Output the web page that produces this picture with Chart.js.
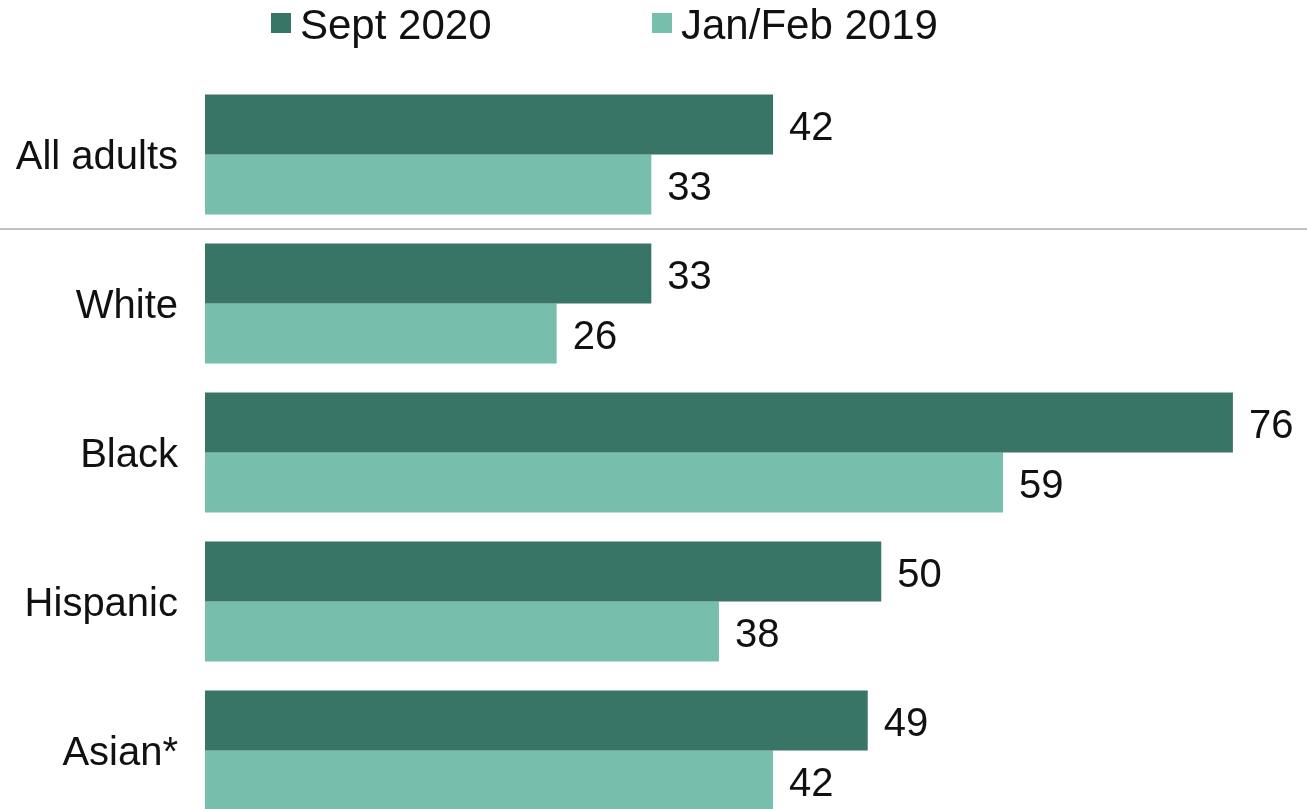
<!DOCTYPE html>
<html>
<head>
<meta charset="utf-8">
<script src="https://cdn.jsdelivr.net/npm/chart.js@4/dist/chart.umd.min.js"></script>
<style>
  html, body { margin: 0; padding: 0; background: #fff; overflow: hidden; }
  #wrap { width: 1307px; height: 830px; }
</style>
</head>
<body>
<div id="wrap"><canvas id="c" width="1307" height="830" style="width:1307px;height:830px"></canvas></div>
<script>
const categories = ["All adults", "White", "Black", "Hispanic", "Asian*"];
const seriesNames = ["Sept 2020", "Jan/Feb 2019"];
const sept2020 = [42, 33, 76, 50, 49];
const janFeb2019 = [33, 26, 59, 38, 42];
const seriesColors = ["#387566", "#77bead"];

const FONT = "'Liberation Sans', Arial, sans-serif";

const legendPlugin = {
  id: 'customLegend',
  afterDraw(chart) {
    const ctx = chart.ctx;
    const items = [{ box: 271, text: 300 }, { box: 652, text: 681 }];
    ctx.save();
    ctx.font = "42px " + FONT;
    ctx.textBaseline = 'middle';
    ctx.textAlign = 'left';
    chart.data.datasets.forEach((ds, i) => {
      ctx.fillStyle = ds.backgroundColor;
      ctx.fillRect(items[i].box, 13, 20, 20);
      ctx.fillStyle = '#111';
      ctx.fillText(ds.label, items[i].text, 27);
    });
    ctx.restore();
  }
};

const separatorPlugin = {
  id: 'separator',
  beforeDatasetsDraw(chart) {
    const y = chart.scales.y;
    const yy = (y.getPixelForValue(0) + y.getPixelForValue(1)) / 2;
    const ctx = chart.ctx;
    ctx.save();
    ctx.strokeStyle = '#c2c2c2';
    ctx.lineWidth = 2;
    ctx.beginPath();
    ctx.moveTo(0, yy);
    ctx.lineTo(chart.width, yy);
    ctx.stroke();
    ctx.restore();
  }
};

const valueLabels = {
  id: 'valueLabels',
  afterDatasetsDraw(chart) {
    const ctx = chart.ctx;
    ctx.save();
    ctx.font = "40px " + FONT;
    ctx.fillStyle = '#111';
    ctx.textAlign = 'left';
    ctx.textBaseline = 'middle';
    chart.data.datasets.forEach((ds, di) => {
      chart.getDatasetMeta(di).data.forEach((bar, i) => {
        ctx.fillText(String(ds.data[i]), bar.x + 16, bar.y + 4);
      });
    });
    ctx.restore();
  }
};

new Chart(document.getElementById('c'), {
  type: 'bar',
  data: {
    labels: categories,
    datasets: [
      { label: seriesNames[0], data: sept2020, backgroundColor: seriesColors[0] },
      { label: seriesNames[1], data: janFeb2019, backgroundColor: seriesColors[1] }
    ]
  },
  options: {
    indexAxis: 'y',
    responsive: false,
    maintainAspectRatio: false,
    animation: false,
    devicePixelRatio: 1,
    layout: { padding: { top: 80, bottom: 5, left: 0, right: 20 } },
    datasets: { bar: { categoryPercentage: 0.805, barPercentage: 1.0 } },
    plugins: { legend: { display: false }, tooltip: { enabled: false } },
    scales: {
      x: { display: false, min: 0, max: 80 },
      y: {
        grid: { display: false },
        border: { display: false },
        ticks: { font: { family: FONT, size: 40 }, color: '#111', padding: 19, labelOffset: 3 },
        afterFit(scale) { scale.width = 205; scale.paddingTop = 0; scale.paddingBottom = 0; }
      }
    }
  },
  plugins: [legendPlugin, separatorPlugin, valueLabels]
});
</script>
</body>
</html>
